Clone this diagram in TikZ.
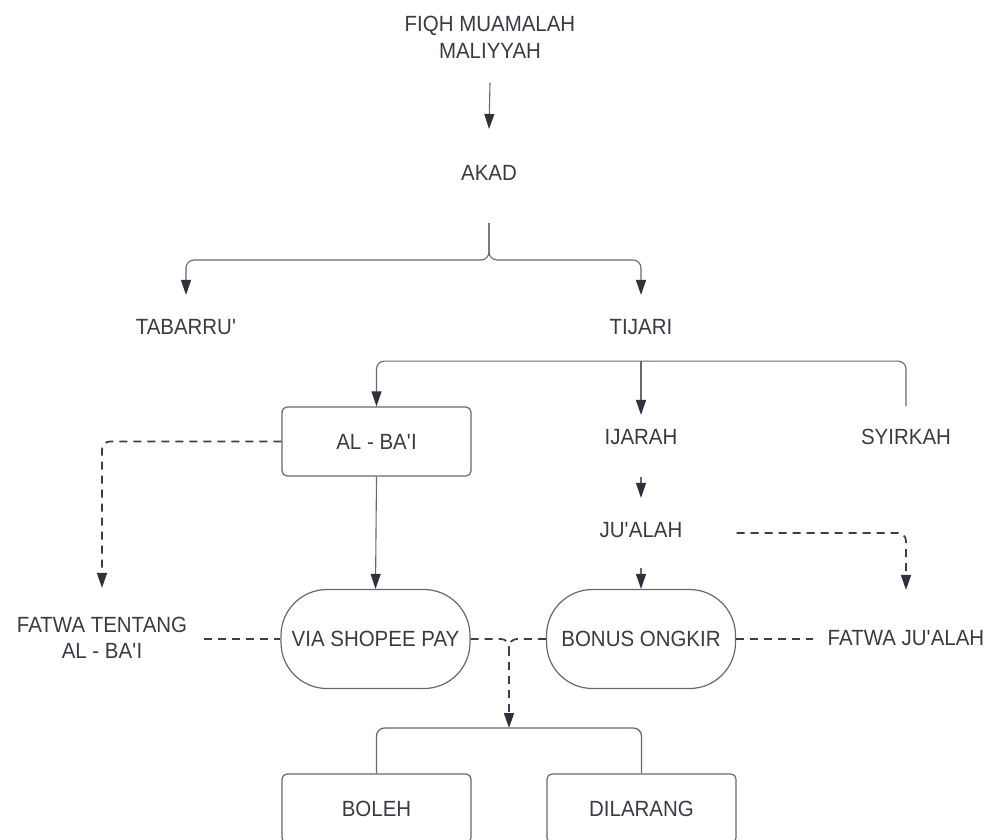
\documentclass[tikz,border=0pt]{standalone}
\usepackage{fontspec}
\setmainfont{Liberation Sans}[FakeStretch=0.93]
\usetikzlibrary{arrows.meta,calc}
\definecolor{txtc}{HTML}{383B42}
\definecolor{linec}{HTML}{65686E}
\definecolor{dashc}{HTML}{3A3E46}
\definecolor{headc}{HTML}{2E333B}
\newcommand{\apos}{\textquotesingle}
\begin{document}
\begin{tikzpicture}[x=1pt,y=-1pt,
  lbl/.style={font=\fontsize{22}{26.5}\selectfont, text=txtc, inner sep=0pt, align=center},
  one/.style={lbl, text height=15.7pt, text depth=0pt},
  boxnode/.style={one, draw=linec, line width=1.2pt, rounded corners=5pt, minimum width=189pt, minimum height=69pt},
  pill/.style={one, draw=linec, line width=1.2pt, rounded corners=46pt, minimum width=189pt, minimum height=99pt},
  conn/.style={draw=linec, line width=1.1pt},
  arr/.style={-{Triangle[length=15pt,width=10pt,color=headc]}},
  dsh/.style={draw=dashc, line width=1.7pt, dash pattern=on 8pt off 6pt},
  rc/.style={rounded corners=8pt},
]
\useasboundingbox (0,0) rectangle (990,839);
\clip (0,0) rectangle (990,839);

% nodes
\node[lbl] (fiqh) at (490,37.5) {FIQH MUAMALAH\\MALIYYAH};
\node[one] (akad) at (489,173) {AKAD};
\node[one] (tabarru) at (186,327) {TABARRU\apos};
\node[one] (tijari) at (641,327) {TIJARI};
\node[boxnode] (albai) at (376.5,441.5) {AL - BA\apos I};
\node[one] (ijarah) at (641,437) {IJARAH};
\node[one] (syirkah) at (906,437) {SYIRKAH};
\node[one] (jualah) at (641,530) {JU\apos ALAH};
\node[lbl] (fatwa1) at (102,638) {FATWA TENTANG\\AL - BA\apos I};
\node[pill] (via) at (375.5,639) {VIA SHOPEE PAY};
\node[pill] (bonus) at (641,639) {BONUS ONGKIR};
\node[one] (fatwa2) at (906,638) {FATWA JU\apos ALAH};
\node[boxnode] (boleh) at (376.5,808.5) {BOLEH};
\node[boxnode] (dilarang) at (641.5,808.5) {DILARANG};

% helper coordinates
\coordinate (a0) at ([yshift=-42pt]akad.south);
\coordinate (t0) at ([yshift=-26pt]tijari.south);
\coordinate (j) at (509,728);
\coordinate (jv) at ($(j |- via.east)+(0,9)$);

% connectors
\draw[conn,arr] ([yshift=-24pt]fiqh.south) -- ([yshift=36pt]akad.north);
\draw[conn,arr,rc] (a0) |- ([yshift=59pt]tabarru.north) -- ([yshift=24pt]tabarru.north);
\draw[conn,arr,rc] (a0) |- ([yshift=59pt]tijari.north) -- ([yshift=24pt]tijari.north);

\draw[conn,arr,rc] (t0) -| (albai.north);
\draw[conn,arr] (t0) -- ([yshift=14pt]ijarah.north);
\draw[conn,rc] (t0) -| ([yshift=23pt]syirkah.north);

\draw[conn,arr] ([yshift=-32pt]ijarah.south) -- ([yshift=24pt]jualah.north);
\draw[conn,arr] ([yshift=-30pt]jualah.south) -- (bonus.north);
\draw[conn,arr] (albai.south) -- (via.north);

\draw[dsh,arr,rc] (albai.west) -| ([yshift=29pt]fatwa1.north);
\draw[dsh,arr,rc] ([xshift=54pt,yshift=-3pt]jualah.east) -| ([yshift=40pt]fatwa2.north);

\draw[dsh] ([xshift=17pt]fatwa1.east |- via.west) -- (via.west);
\draw[dsh] (bonus.east) -- ([xshift=-15pt]fatwa2.west |- bonus.east);

\draw[dsh,rc] (via.east) -| (jv);
\draw[dsh,rc] (bonus.west) -| (jv);
\draw[dsh,arr] (jv) -- (j);

\draw[conn,line width=1.3pt,rc] (j) -| (boleh.north);
\draw[conn,line width=1.3pt,rc] (j) -| (dilarang.north);
\end{tikzpicture}
\end{document}
